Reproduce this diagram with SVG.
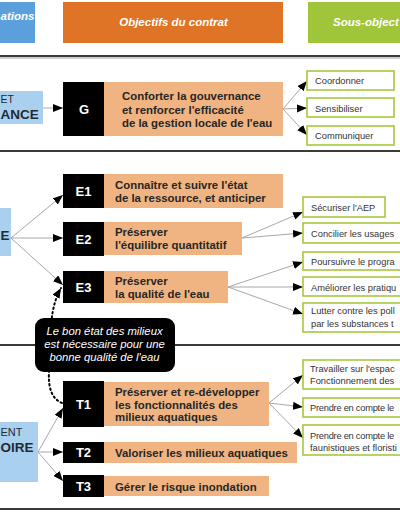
<svg xmlns="http://www.w3.org/2000/svg" width="400" height="516" viewBox="0 0 400 516">
<defs>
<marker id="ah" markerUnits="userSpaceOnUse" markerWidth="11" markerHeight="9" refX="10" refY="4" orient="auto">
<path d="M0,0 L10,4 L0,8 z" fill="#000"/>
</marker>
<style>
.hdr{font-family:"Liberation Sans",Arial,sans-serif;font-size:11.5px;font-weight:bold;font-style:italic;fill:#fff}
.sec{fill:#aad0ef}
.secT{font-family:"Liberation Sans",Arial,sans-serif;fill:#1e2a36}
.blk{fill:#000}
.blkT{font-family:"Liberation Sans",Arial,sans-serif;font-size:13px;font-weight:bold;fill:#fff;text-anchor:middle}
.obj{fill:#f0b482}
.objT{font-family:"Liberation Sans",Arial,sans-serif;font-size:11.4px;font-weight:bold;fill:#262626}
.sub{fill:#fff;stroke:#a6c83a;stroke-width:1.6}
.subT{font-family:"Liberation Sans",Arial,sans-serif;font-size:9.3px;fill:#333}
.con{stroke:#a8a8a8;stroke-width:1;fill:none;marker-end:url(#ah)}
.div{stroke:#3a3a3a;stroke-width:2}
.note{font-family:"Liberation Sans",Arial,sans-serif;font-size:11.3px;font-style:italic;fill:#fff;text-anchor:middle}
</style>
</defs>
<rect width="400" height="516" fill="#fff"/>

<g id="header">
<rect x="-5" y="2" width="40" height="41" fill="#5b9fdd"/>
<text class="hdr" x="0.5" y="20">ations</text>
<rect x="63" y="2" width="220" height="41" fill="#e07426"/>
<text class="hdr" x="173.5" y="26" text-anchor="middle">Objectifs du contrat</text>
<rect x="308" y="2" width="100" height="41" fill="#a0c53a"/>
<text class="hdr" x="333" y="26">Sous-object</text>
</g>

<g id="dividers">
<line x1="0" y1="58" x2="400" y2="58" stroke="#cfcfcf" stroke-width="2"/>
<line class="div" x1="0" y1="56" x2="400" y2="56"/>
<line class="div" x1="0" y1="151" x2="400" y2="151"/>
<line class="div" x1="0" y1="345" x2="400" y2="345"/>
<line class="div" x1="0" y1="509" x2="400" y2="509"/>
</g>

<g id="connectors">
<line class="con" x1="43" y1="108" x2="63" y2="108"/>
<line class="con" x1="283" y1="109" x2="307" y2="81"/>
<line class="con" x1="283" y1="109" x2="307" y2="108"/>
<line class="con" x1="283" y1="109" x2="307" y2="135"/>
<line class="con" x1="11" y1="238" x2="63" y2="195"/>
<line class="con" x1="11" y1="238" x2="63" y2="238"/>
<line class="con" x1="11" y1="238" x2="63" y2="285"/>
<line class="con" x1="242" y1="238" x2="303" y2="212"/>
<line class="con" x1="242" y1="238" x2="303" y2="233"/>
<line class="con" x1="228" y1="287" x2="303" y2="262"/>
<line class="con" x1="228" y1="287" x2="303" y2="287"/>
<line class="con" x1="228" y1="287" x2="303" y2="314"/>
<line class="con" x1="38" y1="452" x2="63" y2="408"/>
<line class="con" x1="38" y1="452" x2="63" y2="452"/>
<line class="con" x1="38" y1="452" x2="63" y2="481"/>
<line class="con" x1="269" y1="403" x2="303" y2="375"/>
<line class="con" x1="269" y1="403" x2="303" y2="407"/>
<line class="con" x1="269" y1="403" x2="303" y2="438"/>
<path d="M62,403 C52,399 48,388 49,372 L50,340 C51,318 53,302 61,288" fill="none" stroke="#000" stroke-width="2" stroke-dasharray="1.5 3" stroke-linecap="round" marker-end="url(#ah)"/>
</g>

<g id="secG">
<rect class="sec" x="-5" y="91" width="48" height="33"/>
<text class="secT" x="0.5" y="103" font-size="10.5">ET</text>
<text class="secT" x="0.5" y="119" font-size="13.5" font-weight="bold">ANCE</text>
</g>
<g id="secE">
<rect class="sec" x="-5" y="208" width="16" height="48"/>
<text class="secT" x="0.5" y="240" font-size="13.5" font-weight="bold">E</text>
</g>
<g id="secT">
<rect class="sec" x="-5" y="422" width="43" height="60"/>
<text class="secT" x="0.5" y="436" font-size="11">ENT</text>
<text class="secT" x="0.5" y="452" font-size="13.5" font-weight="bold">OIRE</text>
</g>

<g id="G">
<rect class="blk" x="63" y="82" width="41" height="54"/>
<text class="blkT" x="84" y="113.5">G</text>
<rect class="obj" x="104" y="82" width="179" height="54"/>
<text class="objT" x="122" y="100">Conforter la gouvernance</text>
<text class="objT" x="122" y="113.5">et renforcer l'efficacité</text>
<text class="objT" x="122" y="127">de la gestion locale de l'eau</text>
</g>
<g id="E1">
<rect class="blk" x="63" y="174" width="41" height="34"/>
<text class="blkT" x="83.5" y="196">E1</text>
<rect class="obj" x="104" y="174" width="179" height="34"/>
<text class="objT" x="115" y="189">Connaître et suivre l'état</text>
<text class="objT" x="115" y="202">de la ressource, et anticiper</text>
</g>
<g id="E2">
<rect class="blk" x="63" y="222" width="41" height="34"/>
<text class="blkT" x="83.5" y="244">E2</text>
<rect class="obj" x="104" y="222" width="138" height="33"/>
<text class="objT" x="115" y="236">Préserver</text>
<text class="objT" x="115" y="248.5">l'équilibre quantitatif</text>
</g>
<g id="E3">
<rect class="blk" x="63" y="271" width="41" height="32"/>
<text class="blkT" x="83.5" y="292">E3</text>
<rect class="obj" x="104" y="271" width="124" height="32"/>
<text class="objT" x="115" y="285">Préserver</text>
<text class="objT" x="115" y="297.5">la qualité de l'eau</text>
</g>
<g id="T1">
<rect class="blk" x="63" y="381" width="41" height="46"/>
<text class="blkT" x="83.5" y="408.5">T1</text>
<rect class="obj" x="104" y="382" width="165" height="44"/>
<text class="objT" x="115" y="396">Préserver et re-développer</text>
<text class="objT" x="115" y="408.5">les fonctionnalités des</text>
<text class="objT" x="115" y="421">milieux aquatiques</text>
</g>
<g id="T2">
<rect class="blk" x="63" y="442" width="41" height="21"/>
<text class="blkT" x="83.5" y="457">T2</text>
<rect class="obj" x="104" y="442" width="193" height="21"/>
<text class="objT" x="115" y="457">Valoriser les milieux aquatiques</text>
</g>
<g id="T3">
<rect class="blk" x="63" y="475" width="41" height="22"/>
<text class="blkT" x="83.5" y="491">T3</text>
<rect class="obj" x="104" y="476" width="165" height="20"/>
<text class="objT" x="115" y="491">Gérer le risque inondation</text>
</g>

<g id="G-subs">
<rect class="sub" x="307" y="71" width="87" height="19"/>
<text class="subT" x="315" y="84">Coordonner</text>
<rect class="sub" x="307" y="98" width="87" height="19"/>
<text class="subT" x="315" y="112">Sensibiliser</text>
<rect class="sub" x="307" y="126" width="87" height="19"/>
<text class="subT" x="315" y="139">Communiquer</text>
</g>
<g id="E-subs">
<rect class="sub" x="303" y="197" width="82" height="20"/>
<text class="subT" x="311" y="210.5">Sécuriser l'AEP</text>
<rect class="sub" x="303" y="223" width="110" height="20"/>
<text class="subT" x="311" y="236.5">Concilier les usages</text>
<rect class="sub" x="303" y="252" width="110" height="18"/>
<text class="subT" x="311" y="264.5">Poursuivre le progra</text>
<rect class="sub" x="303" y="277" width="110" height="19"/>
<text class="subT" x="311" y="290.5">Améliorer les pratiqu</text>
<rect class="sub" x="303" y="303" width="110" height="29"/>
<text class="subT" x="311" y="314">Lutter contre les poll</text>
<text class="subT" x="311" y="326.5">par les substances t</text>
</g>
<g id="T-subs">
<rect class="sub" x="303" y="360" width="110" height="29"/>
<text class="subT" x="310" y="372">Travailler sur l'espac</text>
<text class="subT" x="310" y="384">Fonctionnement des</text>
<rect class="sub" x="303" y="398" width="110" height="19"/>
<text class="subT" x="310" y="411" letter-spacing="-0.25">Prendre en compte le</text>
<rect class="sub" x="303" y="425" width="110" height="30"/>
<text class="subT" x="310" y="438.5" letter-spacing="-0.25">Prendre en compte le</text>
<text class="subT" x="310" y="450.5">faunistiques et floristi</text>
</g>

<g id="note">
<rect x="35" y="318" width="140" height="54" rx="9" fill="#000"/>
<text class="note" x="104.5" y="335">Le bon état des milieux</text>
<text class="note" x="104.5" y="348">est nécessaire pour une</text>
<text class="note" x="104.5" y="361">bonne qualité de l'eau</text>
</g>
</svg>
